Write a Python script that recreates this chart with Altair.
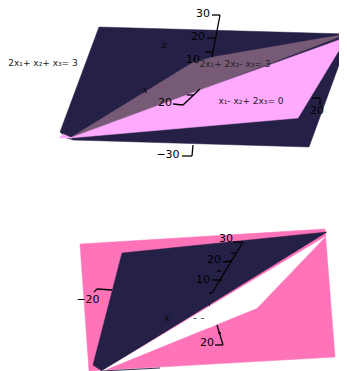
import altair as alt
import pandas as pd

# Values read in the reference's own coordinate space (x right, y down)
dark_top_x = [99, 347, 347, 309, 73, 67, 60]
dark_top_y = [27, 34, 43, 147, 140, 138, 132]
mauve_x = [70, 192, 213, 347, 203]
mauve_y = [138, 63, 57, 34, 89]
light_x = [70, 203, 347, 298]
light_y = [138, 89, 37, 118]
tip_x = [59, 63, 72]
tip_y = [138, 134, 138]
pink_x = [80, 325, 335, 89]
pink_y = [244, 229, 357, 371]
dark_low_x = [122, 327, 102, 93]
dark_low_y = [253, 232, 371, 365]
white_x = [102, 325, 257]
white_y = [371, 237, 308]
patch_x = [190, 212, 212, 190]
patch_y = [319, 319, 327, 327]

polys = [
    ("a", "#252046", dark_top_x, dark_top_y),
    ("b", "#775a75", mauve_x, mauve_y),
    ("c", "#ffaaff", light_x, light_y),
    ("d", "#ffaaff", tip_x, tip_y),
    ("e", "#ff74b8", pink_x, pink_y),
    ("f", "#252046", dark_low_x, dark_low_y),
    ("g", "#ffffff", white_x, white_y),
]

axis_lines = [
    [(220, 15), (212, 57)], [(212, 15), (220, 15)], [(207, 38), (216, 38)], [(205, 52), (213, 52)],
    [(200, 89), (183, 105)], [(173, 104), (183, 105)], [(187, 95), (194, 95)],
    [(193, 145), (192, 156)], [(182, 156), (192, 156)],
    [(312, 98), (320, 98)], [(320, 98), (320, 105)],
    [(243, 242), (212, 293)], [(233, 242), (243, 242)], [(223, 262), (232, 261)],
    [(212, 280), (222, 280)], [(235, 253), (231, 253)], [(217, 271), (221, 271)], [(209, 293), (212, 293)],
    [(209, 305), (210, 305)],
    [(217, 325), (223, 345)], [(215, 345), (223, 345)], [(218, 333), (221, 333)],
    [(94, 292), (97, 289)], [(97, 289), (112, 290)],
]
edge_line = [(102, 371), (160, 368)]

labels = ["30", "20", "10", "20", "\u221230", "20",
          "30", "20", "10", "20", "\u221220"]
label_x = [203, 198, 193, 165, 168, 317,
           226, 214, 203, 207, 88]
label_y = [14, 37, 60, 103, 155, 111,
           239, 260, 280, 343, 300]
axis_names = ["z", "x", "x"]
name_x = [164, 145, 167]
name_y = [45, 90, 318]
hidden_label = ["10"]
hidden_x = [199]
hidden_y = [323]
equations = ["2x\u2081+ x\u2082+ x\u2083= 3", "2x\u2081+ 2x\u2082- x\u2083= 3", "x\u2081- x\u2082+ 2x\u2083= 0"]
eq_x = [43, 235, 251]
eq_y = [63, 64, 101]

X = alt.X("x:Q", scale=alt.Scale(domain=[8, 339], nice=False, zero=False), axis=None)
Y = alt.Y("y:Q", scale=alt.Scale(domain=[371, 8], nice=False, zero=False), axis=None)


def polygon(color, xs, ys):
    d = pd.DataFrame({"x": xs + xs[:1], "y": ys + ys[:1], "i": range(len(xs) + 1)})
    return (
        alt.Chart(d)
        .mark_line(fill=color, stroke=color, strokeWidth=0.5, clip=True, interpolate="linear-closed")
        .encode(x=X, y=Y, order="i:Q")
    )


layers = [polygon(c, xs, ys) for _, c, xs, ys in polys]

layers.append(
    alt.Chart(pd.DataFrame({"x": hidden_x, "y": hidden_y, "t": hidden_label}))
    .mark_text(font="DejaVu Sans", fontSize=11, color="#000000", align="center", baseline="middle")
    .encode(x=X, y=Y, text="t:N")
)
layers.append(polygon("#ffffff", patch_x, patch_y))

rows = []
for k, seg in enumerate(axis_lines):
    for j, (px, py) in enumerate(seg):
        rows.append({"x": px, "y": py, "s": k, "i": j})
layers.append(
    alt.Chart(pd.DataFrame(rows)).mark_line(color="#000000", strokeWidth=1.3, clip=True)
    .encode(x=X, y=Y, detail="s:N", order="i:Q")
)
edge = pd.DataFrame({"x": [p[0] for p in edge_line], "y": [p[1] for p in edge_line], "i": [0, 1]})
layers.append(
    alt.Chart(edge).mark_line(color="#3a3a5a", strokeWidth=1, clip=True).encode(x=X, y=Y, order="i:Q")
)

txt = pd.DataFrame({"x": label_x, "y": label_y, "t": labels})
layers.append(
    alt.Chart(txt).mark_text(font="DejaVu Sans", fontSize=11, color="#000000", align="center", baseline="middle")
    .encode(x=X, y=Y, text="t:N")
)
names = pd.DataFrame({"x": name_x, "y": name_y, "t": axis_names})
layers.append(
    alt.Chart(names).mark_text(font="DejaVu Serif", fontSize=9, fontStyle="italic", color="#000000",
                               align="center", baseline="middle")
    .encode(x=X, y=Y, text="t:N")
)
eqs = pd.DataFrame({"x": eq_x, "y": eq_y, "t": equations})
layers.append(
    alt.Chart(eqs).mark_text(font="DejaVu Sans", fontSize=9, color="#222222", align="center", baseline="middle")
    .encode(x=X, y=Y, text="t:N")
)

chart = alt.layer(*layers).properties(
    width=331, height=363, padding=0,
    autosize=alt.AutoSizeParams(type="none"),
).configure_view(stroke=None)

chart.save("out.html", embed_options={"renderer": "svg", "actions": False})
